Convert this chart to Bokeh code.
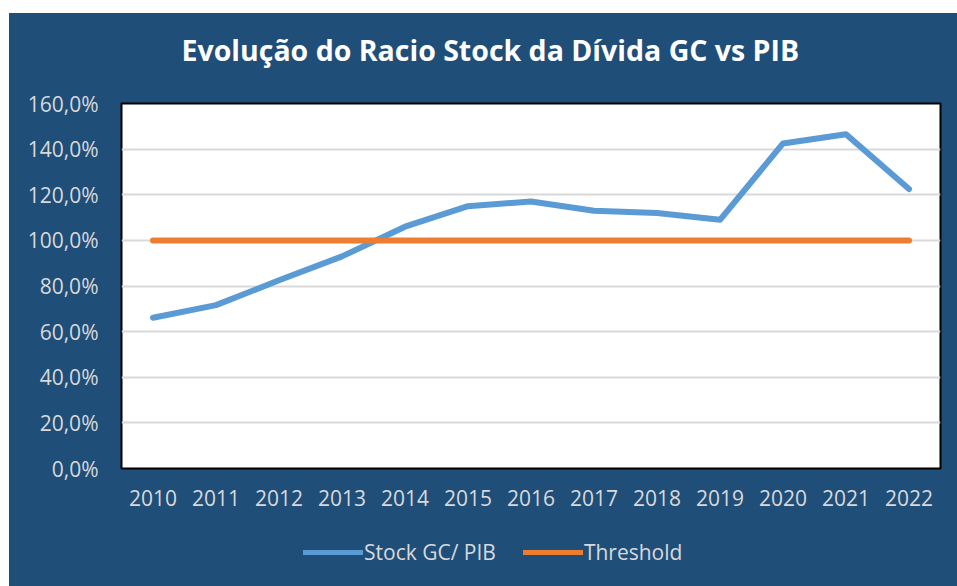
from bokeh.plotting import figure
from bokeh.models import FixedTicker, Legend, LegendItem, ColumnDataSource, Spacer
from bokeh.layouts import column, row
from bokeh.embed import file_html
from bokeh.resources import INLINE

years = ["2010", "2011", "2012", "2013", "2014", "2015", "2016",
         "2017", "2018", "2019", "2020", "2021", "2022"]
stock_gc_pib = [66.1, 71.6, 82.5, 93.0, 106.0, 115.0, 117.0,
                113.0, 112.0, 109.0, 142.5, 146.5, 122.5]
threshold = [100.0] * len(years)
y_ticks = [0, 20, 40, 60, 80, 100, 120, 140, 160]
y_tick_labels = ["0,0%", "20,0%", "40,0%", "60,0%", "80,0%",
                 "100,0%", "120,0%", "140,0%", "160,0%"]
series_names = ["Stock GC/ PIB", "Threshold"]
chart_title = "Evolução do Racio Stock da Dívida GC vs PIB"

BG = "#1F4E79"
LABEL = "#D9D9D9"
BLUE = "#5B9BD5"
ORANGE = "#ED7D31"


def strip(height):
    f = figure(width=948, height=height, x_range=(0, 1), y_range=(0, 1),
               output_backend="svg", toolbar_location=None,
               min_border=0, min_border_left=112, min_border_right=17)
    f.axis.visible = False
    f.grid.visible = False
    f.outline_line_color = None
    f.background_fill_color = None
    f.border_fill_color = BG
    return f


# title strip
top = strip(74)
top.title.text = chart_title
top.title.align = "left"
top.title.offset = 60
top.title.standoff = 30
top.title.text_color = "white"
top.title.text_font = "Open Sans"
top.title.text_font_style = "bold"
top.title.text_font_size = "28.5px"

src = ColumnDataSource(dict(x=years, stock=stock_gc_pib, thr=threshold))

p = figure(x_range=years, y_range=(0, 160), width=948, height=436,
           output_backend="svg", toolbar_location=None,
           min_border_left=112, min_border_right=17,
           min_border_top=16, min_border_bottom=55)
p.x_range.range_padding = 0
p.background_fill_color = "white"
p.border_fill_color = BG
p.outline_line_color = "black"
p.outline_line_width = 2

p.line("x", "stock", source=src, line_color=BLUE, line_width=6,
       line_cap="round", line_join="round")
p.line("x", "thr", source=src, line_color=ORANGE, line_width=6,
       line_cap="round", line_join="round")

p.xgrid.grid_line_color = None
p.ygrid.grid_line_color = "#D9D9D9"
p.ygrid.grid_line_width = 2

p.yaxis.ticker = FixedTicker(ticks=y_ticks)
p.yaxis.major_label_overrides = {t: l for t, l in zip(y_ticks, y_tick_labels)}
for ax in (p.xaxis, p.yaxis):
    ax.axis_line_color = None
    ax.major_tick_line_color = None
    ax.minor_tick_line_color = None
    ax.major_label_text_color = LABEL
    ax.major_label_text_font = "Open Sans"
    ax.major_label_text_font_size = "21px"
p.yaxis.major_label_standoff = 17
p.xaxis.major_label_standoff = 15

# legend strip below the chart (its frame aligns with the chart's frame)
lg = strip(63)
hidden = dict(x=[-5, -4], y=[-5, -4])
l1 = lg.line(x=hidden["x"], y=hidden["y"], line_color=BLUE, line_width=5, line_cap="round")
l2 = lg.line(x=hidden["x"], y=hidden["y"], line_color=ORANGE, line_width=5, line_cap="round")
legend = Legend(items=[LegendItem(label=series_names[0], renderers=[l1]),
                       LegendItem(label=series_names[1], renderers=[l2])],
                orientation="horizontal", location=(182, 20),
                background_fill_alpha=0, border_line_color=None,
                label_text_color=LABEL, label_text_font="Open Sans",
                label_text_font_size="21px", glyph_width=60,
                label_standoff=1, spacing=27, padding=8, margin=0)
lg.add_layout(legend)

chart = column(top, p, lg, spacing=0, styles={"background-color": BG})
layout = row(Spacer(width=9), column(Spacer(height=13), chart, spacing=0), spacing=0)
html = file_html(layout, INLINE)
html = html.replace("<head>", "<head><style>html,body{overflow:hidden;margin:0}</style>", 1)
open("out.html", "w").write(html)
